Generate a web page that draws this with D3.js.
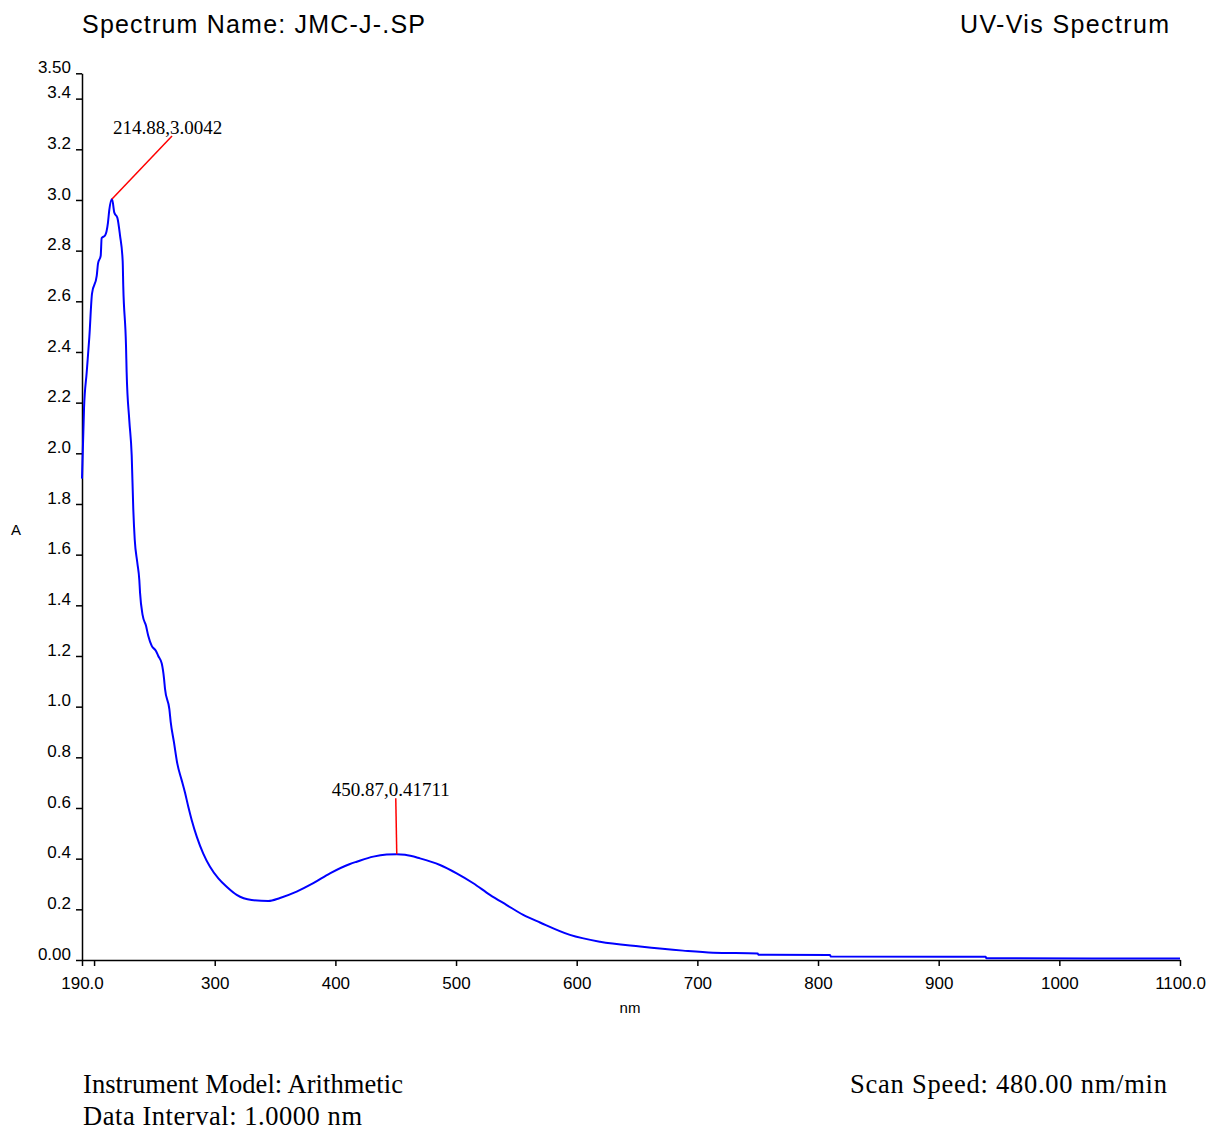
<!DOCTYPE html>
<html>
<head>
<meta charset="utf-8">
<script src="https://cdn.jsdelivr.net/npm/d3@7"></script>
<style>
    body { margin: 0; background: #fff; }
    .axis path, .axis line { stroke: #000; stroke-width: 1.5px; }
    .axis text { font-family: "Liberation Sans", Arial, sans-serif; font-size: 17px; fill: #000; }
</style>
</head>
<body>
<svg id="chart" width="1210" height="1130"></svg>
<script>
// Wavelength (nm) and absorbance
const wavelengths = [
    190, 191.7, 193.9, 196.1, 198.3, 202.2, 203.3, 205.5, 206.3, 209.1, 211.5, 212.6, 214.88,
    216.8, 219.3, 221.5, 223.7, 224.2, 226.5, 227.0, 229.2, 231.2, 232.5, 233.7, 235.8, 237.5,
    238.1, 240.3, 243.0, 244.9, 247.8, 251.3, 253.2, 256.1, 258.0, 258.8, 262.4, 263.5, 266.2,
    269.0, 272.6, 275.4, 278.1, 280.9, 285.1, 290.5, 296.1, 303.0, 309.9, 318.2, 330.6, 344.4,
    354.1, 367.9, 381.7, 395.5, 412.1, 417.7, 431.4, 442.5, 450.87, 457.7, 470.1, 486.7, 500.5,
    514.3, 528.1, 542.0, 555.7, 569.6, 594.4, 619.3, 652.5, 688.1, 713.0, 750.0, 750.5, 810.0,
    810.5, 939.0, 939.5, 1100
];
const absorbance = [
    1.90, 2.18, 2.32, 2.46, 2.63, 2.70, 2.75, 2.78, 2.85, 2.86, 2.91, 2.96, 3.0042,
    2.95, 2.93, 2.86, 2.76, 2.66, 2.42, 2.32, 2.13, 1.99, 1.78, 1.66, 1.57, 1.50,
    1.45, 1.36, 1.32, 1.28, 1.24, 1.22, 1.20, 1.17, 1.11, 1.07, 0.99, 0.94, 0.86,
    0.775, 0.71, 0.66, 0.605, 0.553, 0.487, 0.42, 0.368, 0.322, 0.289, 0.257, 0.237, 0.233,
    0.245, 0.27, 0.303, 0.342, 0.379, 0.388, 0.408, 0.416, 0.41711, 0.415, 0.401, 0.375, 0.342,
    0.303, 0.257, 0.217, 0.178, 0.148, 0.099, 0.072, 0.053, 0.037, 0.029, 0.026, 0.021, 0.020,
    0.014, 0.013, 0.007, 0.006
];

// Peak annotations
const peakX = [214.88, 450.87];
const peakY = [3.0042, 0.41711];
const peakLabels = ["214.88,3.0042", "450.87,0.41711"];

// Axis ticks
const xTicks = [190, 200, 300, 400, 500, 600, 700, 800, 900, 1000, 1100];
const xTickLabels = ["190.0", "", "300", "400", "500", "600", "700", "800", "900", "1000", "1100.0"];
const yTicks = [0, 0.2, 0.4, 0.6, 0.8, 1.0, 1.2, 1.4, 1.6, 1.8, 2.0, 2.2, 2.4, 2.6, 2.8, 3.0, 3.2, 3.4, 3.5];
const yTickLabels = ["0.00", "0.2", "0.4", "0.6", "0.8", "1.0", "1.2", "1.4", "1.6", "1.8", "2.0",
    "2.2", "2.4", "2.6", "2.8", "3.0", "3.2", "3.4", "3.50"];

const svg = d3.select("#chart");

const x = d3.scaleLinear().domain([190, 1100]).range([82, 1180]);
const y = d3.scaleLinear().domain([0, 3.5]).range([960, 73.3]);

// X axis
const xAxis = svg.append("g")
    .attr("class", "axis")
    .attr("transform", `translate(0,${y(0)})`)
    .call(d3.axisBottom(x)
        .tickValues(xTicks)
        .tickSize(6)
        .tickSizeOuter(0)
        .tickFormat((d, i) => xTickLabels[i]));
xAxis.selectAll("text").attr("dy", "1.2em");

// Y axis
const yAxis = svg.append("g")
    .attr("class", "axis")
    .attr("transform", `translate(${x(190)},0)`)
    .call(d3.axisLeft(y)
        .tickValues(yTicks)
        .tickSize(6)
        .tickSizeOuter(0)
        .tickFormat((d, i) => yTickLabels[i]));
yAxis.selectAll("text").attr("x", -11).attr("dy", "-0.05em");

// Axis titles
svg.append("text")
    .attr("x", 16).attr("y", 535)
    .attr("text-anchor", "middle")
    .style("font-family", "Liberation Sans, Arial, sans-serif")
    .style("font-size", "15px")
    .text("A");

svg.append("text")
    .attr("x", 630).attr("y", 1013)
    .attr("text-anchor", "middle")
    .style("font-family", "Liberation Sans, Arial, sans-serif")
    .style("font-size", "15px")
    .text("nm");

// Spectrum line
const points = wavelengths.map((w, i) => [w, absorbance[i]]);
const line = d3.line()
    .x(d => x(d[0]))
    .y(d => y(d[1]))
    .curve(d3.curveMonotoneX);

svg.append("path")
    .datum(points)
    .attr("fill", "none")
    .attr("stroke", "#0000ff")
    .attr("stroke-width", 2)
    .attr("d", line);

// Peak annotations: leader line plus label
const leaderDx = [60, -1];
const leaderDy = [-63, -56];
const labelAnchor = ["start", "middle"];
const labelDx = [0, -5];

peakX.forEach((px, i) => {
    const x0 = x(px), y0 = y(peakY[i]);
    const x1 = x0 + leaderDx[i], y1 = y0 + leaderDy[i];

    svg.append("line")
        .attr("x1", x0).attr("y1", y0)
        .attr("x2", x1).attr("y2", y1)
        .attr("stroke", "#ff0000")
        .attr("stroke-width", 1.5);

    svg.append("text")
        .attr("x", i === 0 ? x0 + 1 : x1 + labelDx[i])
        .attr("y", y1 - 2)
        .attr("text-anchor", labelAnchor[i])
        .style("font-family", "Liberation Serif, 'Times New Roman', serif")
        .style("font-size", "19px")
        .text(peakLabels[i]);
});

// Header
svg.append("text")
    .attr("x", 82).attr("y", 33)
    .style("font-family", "Liberation Sans, Arial, sans-serif")
    .style("font-size", "25px")
    .attr("textLength", 343)
    .attr("lengthAdjust", "spacing")
    .text("Spectrum Name: JMC-J-.SP");

svg.append("text")
    .attr("x", 960).attr("y", 33)
    .style("font-family", "Liberation Sans, Arial, sans-serif")
    .style("font-size", "25px")
    .attr("textLength", 209)
    .attr("lengthAdjust", "spacing")
    .text("UV-Vis Spectrum");

// Footer
const footer = [
    {text: "Instrument Model: Arithmetic", x: 83, y: 1093, len: 320},
    {text: "Data Interval: 1.0000 nm", x: 83, y: 1125, len: 279},
    {text: "Scan Speed: 480.00 nm/min", x: 850, y: 1093, len: 317}
];
footer.forEach(f => {
    svg.append("text")
        .attr("x", f.x).attr("y", f.y)
        .style("font-family", "Liberation Serif, 'Times New Roman', serif")
        .style("font-size", "26.5px")
        .attr("textLength", f.len)
        .attr("lengthAdjust", "spacing")
        .text(f.text);
});
</script>
</body>
</html>
